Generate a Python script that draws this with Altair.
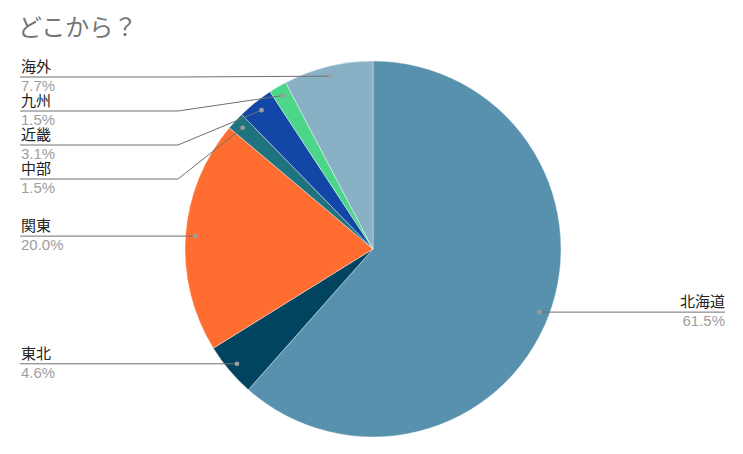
import math
import pandas as pd
import altair as alt

# ---- data ----
regions = ["北海道", "東北", "関東", "中部", "近畿", "九州", "海外"]
counts = [40, 3, 13, 1, 2, 1, 5]
colors = ["#5891AD", "#00445F", "#FF6D31", "#1F737F", "#1247A8", "#4BD68A", "#89B1C6"]
title_text = "どこから？"

# ---- layout constants (chart pixel space) ----
W, H = 720, 430
CX, CY = 365, 241
R = 188
RA = 178          # anchor radius
BEND = R + 7
LEFT_X = 12
RIGHT_X = 717
MIN_Y = 69
GAP = 34

total = sum(counts)
rows = []
cum = 0
for i, (r, c) in enumerate(zip(regions, counts)):
    mid = (cum + c / 2) / total * 2 * math.pi
    cum += c
    ax = CX + RA * math.sin(mid)
    ay = CY - RA * math.cos(mid)
    rows.append(dict(idx=i, region=r, count=c, pct=f"{c / total * 100:.1f}%",
                     ax=ax, ay=ay, side="R" if math.sin(mid) > 0 else "L"))
df = pd.DataFrame(rows)

# label line y: stack labels on each side, keeping GAP between them
df["ly"] = df["ay"]
for side in ["L", "R"]:
    sub = df[df.side == side].sort_values("ay")
    prev = MIN_Y - GAP
    for k in sub.index:
        y = max(df.at[k, "ay"], prev + GAP)
        df.at[k, "ly"] = y
        prev = y

pts = []
for _, r in df.iterrows():
    sgn = 1 if r.side == "R" else -1
    endx = RIGHT_X if r.side == "R" else LEFT_X
    pts.append(dict(region=r.region, o=0, x=r.ax, y=r.ay))
    pts.append(dict(region=r.region, o=1, x=CX + sgn * BEND, y=r.ly))
    pts.append(dict(region=r.region, o=2, x=endx, y=r.ly))
lines = pd.DataFrame(pts)
df["tx"] = [RIGHT_X if s == "R" else LEFT_X + 1 for s in df.side]
df["ny"] = df["ly"] - 5
df["py"] = df["ly"] + 14

xs = alt.Scale(domain=[0, W])
ys = alt.Scale(domain=[0, H], reverse=True)
FONT = "Liberation Sans, 'Noto Sans CJK JP', sans-serif"

pie = alt.Chart(df).mark_arc(radius=R, stroke="white", strokeWidth=0.4).encode(
    theta=alt.Theta("count:Q", stack=True),
    color=alt.Color("region:N", scale=alt.Scale(domain=regions, range=colors), legend=None),
    order=alt.Order("idx:Q"),
    x=alt.value(CX),
    y=alt.value(CY),
)

leader = alt.Chart(lines).mark_line(color="#707070", strokeWidth=1).encode(
    x=alt.X("x:Q", scale=xs, axis=None),
    y=alt.Y("y:Q", scale=ys, axis=None),
    detail="region:N",
    order="o:Q",
)

dots = alt.Chart(df).mark_circle(size=22, color="#9e9e9e", opacity=1).encode(
    x=alt.X("ax:Q", scale=xs, axis=None),
    y=alt.Y("ay:Q", scale=ys, axis=None),
)

def labels(side, align):
    base = alt.Chart(df).transform_filter(alt.datum.side == side)
    name = base.mark_text(align=align, baseline="alphabetic", fontSize=15, font=FONT, color="#222222").encode(
        x=alt.X("tx:Q", scale=xs, axis=None), y=alt.Y("ny:Q", scale=ys, axis=None), text="region:N")
    pct = base.mark_text(align=align, baseline="alphabetic", fontSize=15, font=FONT, color="#9e9e9e").encode(
        x=alt.X("tx:Q", scale=xs, axis=None), y=alt.Y("py:Q", scale=ys, axis=None), text="pct:N")
    return name + pct

chart = alt.layer(pie, leader, dots, labels("L", "left"), labels("R", "right")).properties(
    width=W, height=H,
    autosize=alt.AutoSizeParams(type="none"),
    padding=0,
    title=alt.TitleParams(title_text, anchor="start", frame="group", orient="top",
                          fontSize=24, fontWeight="normal", color="#757575",
                          font="'Noto Sans CJK JP', sans-serif", offset=0, dx=10, dy=57,
                          baseline="bottom"),
).configure_view(stroke=None)

chart.save("out.html", embed_options={"renderer": "svg", "actions": False})
